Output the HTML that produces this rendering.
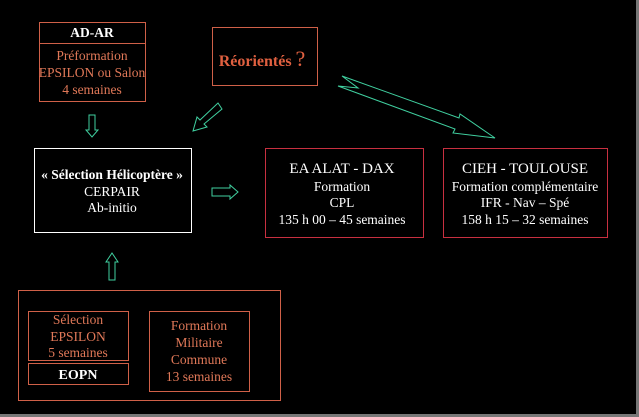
<!DOCTYPE html>
<html><head><meta charset="utf-8"><style>
body{margin:0;background:#000;}
svg{display:block}
text{font-family:"Liberation Serif",serif;text-anchor:middle}
</style></head><body>
<svg width="639" height="417" viewBox="0 0 639 417">
<rect width="639" height="417" fill="#000"/>
<rect x="636" y="0" width="3" height="417" fill="#777"/>
<rect x="0" y="414" width="639" height="3" fill="#777"/>
<g fill="none" stroke-width="1">
<rect x="39.5" y="22.5" width="106" height="79" stroke="#d06048"/>
<line x1="39.5" y1="43.5" x2="145.5" y2="43.5" stroke="#d06048"/>
<rect x="212.5" y="27.5" width="105" height="58" stroke="#d06048"/>
<rect x="34.5" y="148.5" width="157" height="84" stroke="#fff"/>
<rect x="265.5" y="148.5" width="158" height="89" stroke="#c83040"/>
<rect x="443.5" y="148.5" width="164" height="89" stroke="#c83040"/>
<rect x="18.5" y="290.5" width="262" height="110" stroke="#d06048"/>
<rect x="28.5" y="311.5" width="100" height="49" stroke="#d06048"/>
<rect x="28.5" y="363.5" width="100" height="21" stroke="#d06048"/>
<rect x="149.5" y="311.5" width="100" height="80" stroke="#d06048"/>
</g>
<g fill="none" stroke="#40d0a0" stroke-width="1">
<polygon points="89,115 95,115 95,130 98,130 92,137 86,130 89,130"/>
<polygon points="109,280 115,280 115,262 118,262 112,253 106,262 109,262"/>
<polygon points="212,188 230,188 230,185 238,192 230,199 230,196 212,196"/>
<polygon points="218,103 222,109 204,124 207,127 193,131 197,117 200,120"/>
<polygon points="342,76 459,118 460,114 495,138 453,133 455,129 338,86 358,88"/>
</g>
<text x="92" y="37" font-size="13.5" font-weight="bold" fill="#fff">AD-AR</text>
<g font-size="13.5" fill="#e07858">
<text x="92" y="60">Préformation</text>
<text x="92" y="77">EPSILON ou Salon</text>
<text x="92" y="94">4 semaines</text>
</g>
<text x="262" y="66" font-size="16" font-weight="bold" fill="#e06040">Réorientés <tspan font-weight="normal" font-size="22">?</tspan></text>
<text x="112" y="179" font-size="13.5" font-weight="bold" fill="#fff">« Sélection Hélicoptère »</text>
<g font-size="13.5" fill="#fff">
<text x="112" y="196">CERPAIR</text>
<text x="112" y="212">Ab-initio</text>
<text x="342" y="173" font-size="15">EA ALAT - DAX</text>
<text x="342" y="191">Formation</text>
<text x="342" y="207">CPL</text>
<text x="342" y="224">135 h 00 – 45 semaines</text>
<text x="525" y="173" font-size="15">CIEH - TOULOUSE</text>
<text x="525" y="191">Formation complémentaire</text>
<text x="525" y="207">IFR - Nav – Spé</text>
<text x="525" y="224">158 h 15 – 32 semaines</text>
</g>
<g font-size="13.5" fill="#e07858">
<text x="78" y="324">Sélection</text>
<text x="78" y="341">EPSILON</text>
<text x="78" y="357">5 semaines</text>
<text x="199" y="330">Formation</text>
<text x="199" y="347">Militaire</text>
<text x="199" y="364">Commune</text>
<text x="199" y="381">13 semaines</text>
</g>
<text x="78" y="379" font-size="14" font-weight="bold" fill="#fff">EOPN</text>
</svg>
</body></html>
